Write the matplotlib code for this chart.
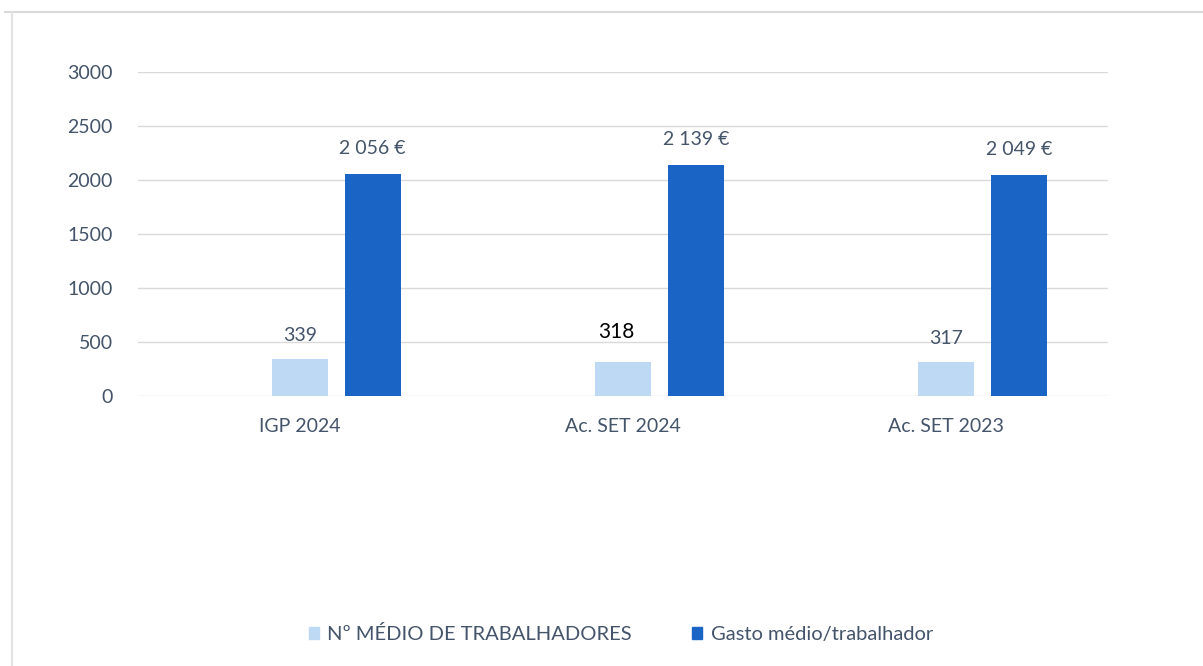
import numpy as np
import matplotlib.pyplot as plt
from matplotlib.patches import Patch
from matplotlib.lines import Line2D

categories = ["IGP 2024", "Ac. SET 2024", "Ac. SET 2023"]
workers = [339, 318, 317]
cost_per_worker = [2056, 2139, 2049]
series_names = ["Nº MÉDIO DE TRABALHADORES", "Gasto médio/trabalhador"]
yticks = [0, 500, 1000, 1500, 2000, 2500, 3000]

light = "#bdd9f3"
dark = "#1a64c6"
txt = "#44546a"

plt.rcParams['font.family'] = ['Lato', 'DejaVu Sans']

fig = plt.figure(figsize=(12.03, 6.66), dpi=100)
W, H = 1203, 666
ax = fig.add_axes([138 / W, 1 - 396 / H, (1108 - 138) / W, (396 - 72) / H])

x = np.arange(len(categories))
bw = 0.173
off = 0.226
ax.bar(x, workers, bw, color=light, zorder=3)
ax.bar(x + off, cost_per_worker, bw, color=dark, zorder=3)

for i, v in enumerate(workers):
    if i == 1:
        ax.annotate(str(v), (x[i], v), xytext=(-5, 21), textcoords="offset points",
                    ha="center", va="center", fontsize=15, color="black")
    else:
        ax.annotate(str(v), (x[i], v), xytext=(0, 17), textcoords="offset points",
                    ha="center", va="center", fontsize=14, color=txt)
for i, v in enumerate(cost_per_worker):
    lab = f"{v:,}".replace(",", " ") + " €"
    ax.annotate(lab, (x[i] + off, v), xytext=(0, 18), textcoords="offset points",
                ha="center", va="center", fontsize=14, color=txt)

ax.set_xlim(-0.5, 2.5)
ax.set_ylim(0, 3000)
ax.set_yticks(yticks)
ax.set_xticks(x)
ax.set_xticklabels(categories)
ax.tick_params(axis="both", length=0, labelsize=14, colors=txt)
ax.tick_params(axis="y", pad=18)
ax.tick_params(axis="x", pad=16)
ax.grid(axis="y", color="#d9d9d9", linewidth=1, zorder=0)
for s in ax.spines.values():
    s.set_visible(False)

# outer frame of the chart
fig.add_artist(Line2D([5 / W, 1], [1 - 12 / H, 1 - 12 / H], color="#d9d9d9", lw=1.5))
fig.add_artist(Line2D([12 / W, 12 / W], [0, 1 - 12 / H], color="#e3e3e3", lw=1.5))

handles = [Patch(color=light), Patch(color=dark)]
fig.legend(handles, series_names, loc="center", bbox_to_anchor=(621 / W, 1 - 634 / H),
           ncol=2, frameon=False, fontsize=14.5, labelcolor=txt,
           handlelength=0.5, handleheight=0.5, handletextpad=0.4, columnspacing=3.0)

fig.savefig("out.png", dpi=100, facecolor="white")
